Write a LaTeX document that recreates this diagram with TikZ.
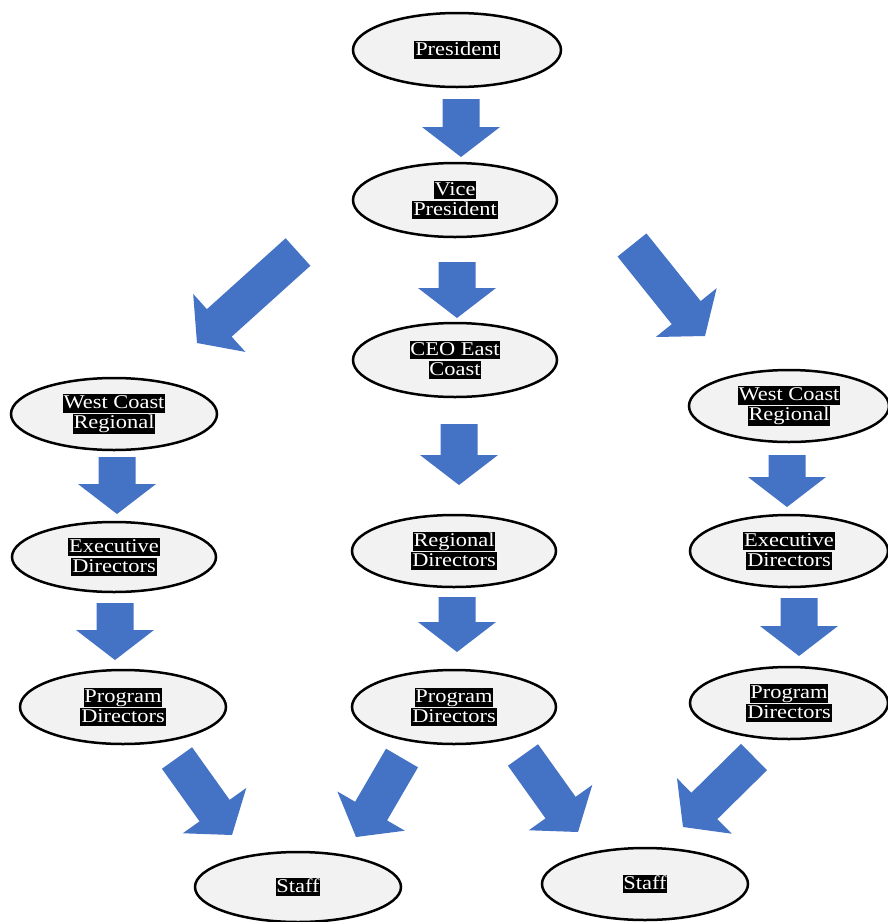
\documentclass[tikz,border=0pt]{standalone}
\usepackage{fontspec}
\setmainfont{Liberation Serif}[FakeStretch=1.15]
\usetikzlibrary{shapes.geometric,calc}
\definecolor{arrowblue}{HTML}{4472C4}
\definecolor{ovalfill}{HTML}{F2F2F2}
\newcommand\hlt[1]{{\setlength\fboxsep{0.8pt}\colorbox{black}{\color{white}\rule[-0.16em]{0pt}{0.88em}#1}}}
\newcommand\blockarrow[2]{%
  \coordinate (ba-n) at ($(#2)!30pt!(#1)$);
  \fill[arrowblue] ($(#1)!18.5pt!90:(#2)$) -- ($(ba-n)!18.5pt!90:(#2)$) -- ($(ba-n)!39pt!90:(#2)$) -- (#2) -- ($(ba-n)!39pt!-90:(#2)$) -- ($(ba-n)!18.5pt!-90:(#2)$) -- ($(#1)!18.5pt!-90:(#2)$) -- cycle;}
\begin{document}
\begin{tikzpicture}[x=1pt,y=-1pt,
  oval/.style={ellipse, draw=black, line width=2.5pt, fill=ovalfill, inner sep=0pt,
    align=center, font=\fontsize{19.5}{20}\selectfont}]
\useasboundingbox[fill=white] (0,0) rectangle (888,922);
% ovals
\node[oval, minimum width=208pt, minimum height=74pt] (pres) at (457,50) {\hlt{President}};
\node[oval, minimum width=204pt, minimum height=74pt] (vp) at (455,200) {\hlt{Vice}\\\hlt{President}};
\node[oval, minimum width=204pt, minimum height=74pt] (ceo) at (455,360) {\hlt{CEO East}\\\hlt{Coast}};
\node[oval, minimum width=206pt, minimum height=72pt] (wcl) at (114,414) {\hlt{West Coast}\\\hlt{Regional}};
\node[oval, minimum width=204pt, minimum height=70pt] (exl) at (114,557) {\hlt{Executive}\\\hlt{Directors}};
\node[oval, minimum width=206pt, minimum height=74pt] (pgl) at (123,707) {\hlt{Program}\\\hlt{Directors}};
\node[oval, minimum width=204pt, minimum height=72pt] (rgc) at (454,551) {\hlt{Regional}\\\hlt{Directors}};
\node[oval, minimum width=204pt, minimum height=74pt] (pgc) at (454,707) {\hlt{Program}\\\hlt{Directors}};
\node[oval, minimum width=200pt, minimum height=72pt] (wcr) at (789,406) {\hlt{West Coast}\\\hlt{Regional}};
\node[oval, minimum width=198pt, minimum height=72pt] (exr) at (789,551) {\hlt{Executive}\\\hlt{Directors}};
\node[oval, minimum width=198pt, minimum height=72pt] (pgr) at (789,703) {\hlt{Program}\\\hlt{Directors}};
\node[oval, minimum width=206pt, minimum height=70pt] (stl) at (298,887) {\hlt{Staff}};
\node[oval, minimum width=206pt, minimum height=72pt] (str) at (645,884) {\hlt{Staff}};
% arrow end points
\coordinate (t1) at (461,99);  \coordinate (h1) at (461,157);
\coordinate (t2) at (457,262); \coordinate (h2) at (457,318);
\coordinate (t3) at (459,424); \coordinate (h3) at (459,485);
\coordinate (t4) at (457,597); \coordinate (h4) at (457,652);
\coordinate (t5) at (117,457); \coordinate (h5) at (117,514);
\coordinate (t6) at (115,603); \coordinate (h6) at (115,660);
\coordinate (t7) at (787,455); \coordinate (h7) at (787,507);
\coordinate (t8) at (799,598); \coordinate (h8) at (799,656);
\coordinate (d1t) at (298,252); \coordinate (d1h) at (197,343);
\coordinate (d2t) at (632,245); \coordinate (d2h) at (705,336);
\coordinate (d3t) at (177,758); \coordinate (d3h) at (232,835);
\coordinate (d4t) at (402,758); \coordinate (d4h) at (356,837);
\coordinate (d5t) at (523,755); \coordinate (d5h) at (578,832);
\coordinate (d6t) at (754,757); \coordinate (d6h) at (683,827);
\blockarrow{t1}{h1}
\blockarrow{t2}{h2}
\blockarrow{t3}{h3}
\blockarrow{t4}{h4}
\blockarrow{t5}{h5}
\blockarrow{t6}{h6}
\blockarrow{t7}{h7}
\blockarrow{t8}{h8}
\blockarrow{d1t}{d1h}
\blockarrow{d2t}{d2h}
\blockarrow{d3t}{d3h}
\blockarrow{d4t}{d4h}
\blockarrow{d5t}{d5h}
\blockarrow{d6t}{d6h}
\end{tikzpicture}
\end{document}
